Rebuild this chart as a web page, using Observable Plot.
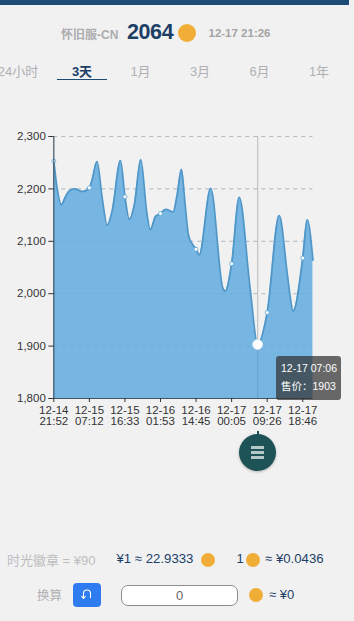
<!DOCTYPE html>
<html><head><meta charset="utf-8">
<script src="https://cdn.jsdelivr.net/npm/d3@7"></script>
<script src="https://cdn.jsdelivr.net/npm/@observablehq/plot@0.6"></script>
<style>
html,body{margin:0;padding:0;width:354px;height:621px;overflow:hidden;background:#f1f1f2;font-family:"Liberation Sans","Noto Sans CJK SC",sans-serif;}
.abs{position:absolute;white-space:nowrap;}
.coin{position:absolute;border-radius:50%;background:#f0ae38;}
#chart{position:absolute;left:0;top:120px;}
#chart svg{background:transparent;display:block;}
</style></head><body>
<div class="abs" style="left:0;top:0;width:349px;height:4.5px;background:#1e4a78"></div>
<div class="abs" style="left:61px;top:25px;font-size:12px;font-weight:bold;color:#adadaf">怀旧服-CN</div>
<div class="abs" style="left:127px;top:20px;font-size:21.5px;font-weight:bold;color:#1d3f66;letter-spacing:-.4px">2064</div>
<div class="coin" style="left:177.5px;top:23.5px;width:18.5px;height:18.5px"></div>
<div class="abs" style="left:208.5px;top:26.5px;font-size:11.5px;font-weight:bold;color:#a3a3a5">12-17 21:26</div>
<div id="tabs"></div>
<div class="abs" style="left:57px;top:78.5px;width:50px;height:1.5px;background:#1e4a78"></div>
<div id="chart"></div>
<div class="abs" style="left:276px;top:356px;width:65px;height:44px;border-radius:3px;background:rgba(50,50,50,.72);color:#fff;font-size:10.5px;line-height:17.5px;padding:4px 0 0 5px;box-sizing:border-box">12-17 07:06<br>售价：1903</div>
<div class="abs" style="left:257px;top:431px;width:2px;height:4px;background:#1d5257"></div>
<div class="abs" style="left:239px;top:434px;width:37px;height:37px;border-radius:50%;background:#1d5257;box-shadow:0 1px 3px rgba(0,0,0,.25)"></div>
<div class="abs" style="left:251px;top:446px;width:13px;height:3px;background:#b4c8c9"></div>
<div class="abs" style="left:251px;top:451px;width:13px;height:3px;background:#b4c8c9"></div>
<div class="abs" style="left:251px;top:456px;width:13px;height:3px;background:#b4c8c9"></div>
<div class="abs" style="left:7px;top:550px;font-size:13px;color:#bdbdc0">时光徽章 = ¥90</div>
<div class="abs" style="left:116.5px;top:551px;font-size:13.2px;color:#1d3f66">¥1 ≈ 22.9333</div>
<div class="coin" style="left:201px;top:552.5px;width:14px;height:14px"></div>
<div class="abs" style="left:236.5px;top:551px;font-size:13px;color:#1d3f66">1</div>
<div class="coin" style="left:245.5px;top:552.5px;width:14px;height:14px"></div>
<div class="abs" style="left:265px;top:551px;font-size:13.2px;color:#1d3f66">≈ ¥0.0436</div>
<div class="abs" style="left:37px;top:584.5px;font-size:12.5px;color:#b0b0b3">换算</div>
<div class="abs" style="left:73px;top:583px;width:28px;height:24px;border-radius:4px;background:#2f7bf0"><svg width="28" height="24" style="display:block"><path d="M10.5 15 V10.5 A3.5 3.5 0 0 1 17.5 10.5 V15 M8.5 13.2 L10.5 15.5 L12.5 13.2" fill="none" stroke="#fff" stroke-width="1.1"/></svg></div>
<div class="abs" style="left:121px;top:585px;width:115px;height:19px;border:1px solid #8c8c8c;border-radius:7px;background:#fff;text-align:center;font-size:13px;line-height:20px;color:#666">0</div>
<div class="coin" style="left:249px;top:588px;width:14px;height:14px"></div>
<div class="abs" style="left:269px;top:587px;font-size:13px;color:#1d3f66">≈ ¥0</div>
<script>
// one sample = 10 minutes of listed time; a tick every 56 samples
const samples = [0,5,12,18,25,33,45,56,60,68,76,84,92,105,112,119,127,137,146,152,160,168,176,188,194,201,206,212,218,224,229,247,266,270,280,292,309,321,336,355,367,371,377,392,399,408];
const prices  = [2253,2203,2170,2184,2197,2200,2195,2202,2216,2252,2184,2131,2158,2254,2185,2142,2171,2256,2158,2122,2147,2153,2161,2156,2187,2237,2180,2112,2095,2085,2074,2201,2011,2005,2057,2184,2011,1903,1964,2149,2044,2005,1967,2068,2141,2064];
const tickSamples = [0,56,112,168,224,280,336,392];
const tickLabels = ["12-14\n21:52","12-15\n07:12","12-15\n16:33","12-16\n01:53","12-16\n14:45","12-17\n00:05","12-17\n09:26","12-17\n18:46"];
const yTicks = [1800,1900,2000,2100,2200,2300];
const focusSample = 321;
const rows = samples.map((s,i)=>({s,p:prices[i]}));
const dots = rows.filter(r=>tickSamples.includes(r.s));
const focus = rows.filter(r=>r.s===focusSample);
const curve = "monotone-x";
const plot = Plot.plot({
  width:354,height:314,marginLeft:53.3,marginRight:41.6,marginTop:16,marginBottom:36,
  style:{background:"transparent",fontFamily:"'Liberation Sans',sans-serif",fontSize:"11.5px",color:"#333"},
  x:{domain:[0,408],axis:null},
  y:{domain:[1800,2300],axis:null},
  marks:[
    Plot.ruleY(yTicks.slice(1),{stroke:"#c6c6c6",strokeDasharray:"4,4",strokeWidth:1}),
    Plot.ruleX([focusSample],{stroke:"#c4c4c4",strokeWidth:1.2,y1:1800,y2:2300}),
    Plot.areaY(rows,{x:"s",y:"p",y1:1800,fill:"#77b6e2",curve}),
    Plot.ruleY(yTicks.slice(1),{stroke:"#5a8fb5",strokeOpacity:.2,strokeDasharray:"4,4",strokeWidth:1}),
    Plot.ruleX([focusSample],{stroke:"#6aa3cc",strokeWidth:1.2,y1:1800,y2:1900}),
    Plot.lineY(rows,{x:"s",y:"p",stroke:"#4f97c8",strokeWidth:1.8,curve}),
    Plot.dot(dots,{x:"s",y:"p",r:2,fill:"#fff",stroke:"#5aa5d6",strokeWidth:.8}),
    Plot.dot(focus,{x:"s",y:"p",r:5,fill:"#fff",stroke:"#cfe3f2",strokeWidth:1}),
    Plot.ruleX([0],{stroke:"#3f5566",strokeWidth:1.2,y1:1800,y2:2300}),
    Plot.ruleY([1800],{stroke:"#3f5566",strokeWidth:1.2}),
    Plot.axisY({ticks:yTicks,tickSize:5,tickPadding:3,tickFormat:d3.format(","),stroke:"#333",fill:"#333",label:null}),
    Plot.axisX({ticks:tickSamples,tickSize:4,tickPadding:3,tickFormat:d=>tickLabels[tickSamples.indexOf(d)],stroke:"#333",fill:"#333",lineHeight:1,label:null})
  ]
});
document.getElementById("chart").appendChild(plot);
const tabs=["24小时","3天","1月","3月","6月","1年"], tabX=[18,82,140.5,200,259.5,319];
const holder=document.getElementById("tabs");
tabs.forEach((t,i)=>{const d=document.createElement("div");d.className="abs";d.textContent=t;
 d.style.cssText=`left:${tabX[i]}px;top:60.5px;transform:translateX(-50%);font-size:13px;color:${i===1?"#1d3f66":"#b0b0b3"};font-weight:${i===1?"bold":"normal"}`;holder.appendChild(d);});
</script>
</body></html>
